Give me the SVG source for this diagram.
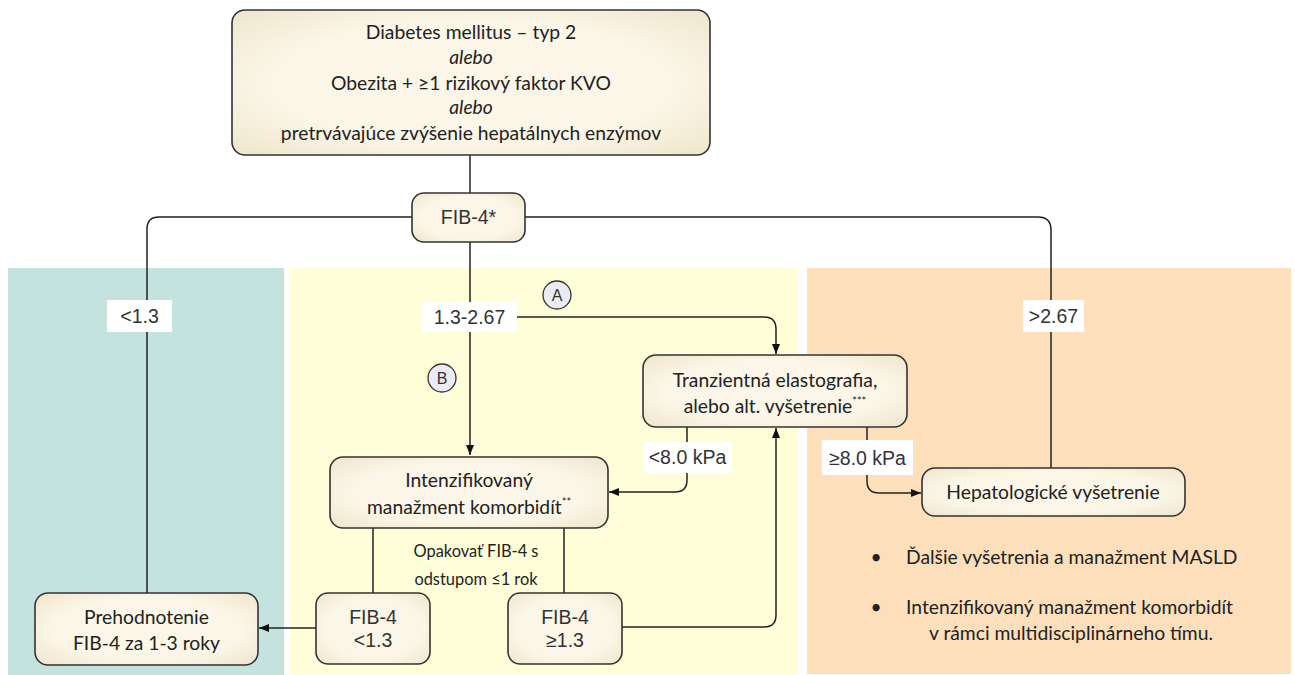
<svg xmlns="http://www.w3.org/2000/svg" width="1295" height="675" viewBox="0 0 1295 675">
<style>
.box{stroke:#333;stroke-width:1.6;fill:url(#cream)}
.ln{fill:none;stroke:#222;stroke-width:1.5}
.arr{marker-end:url(#ah)}
.t{font-family:Lato,"Liberation Sans",sans-serif;font-size:19.3px;fill:#222;text-anchor:middle}
.a{font-family:"Liberation Sans",Arial,sans-serif;font-size:19.5px;fill:#333;text-anchor:middle}
.lbl{fill:#fff}
.circ{fill:#ebebf3;stroke:#333;stroke-width:1.3}
</style>
<defs>
<radialGradient id="cream" cx="50%" cy="50%" r="70%">
<stop offset="0.6" stop-color="#fbf6e7"/>
<stop offset="1" stop-color="#efe5cc"/>
</radialGradient>
<marker id="ah" viewBox="0 0 10 10" refX="10" refY="5" markerWidth="10" markerHeight="10" markerUnits="userSpaceOnUse" orient="auto">
<path d="M0,1 L10,5 L0,9 z" fill="#111"/>
</marker>
</defs>
<rect width="1295" height="675" fill="#fff"/>
<g id="panels">
<rect x="8" y="268" width="276" height="407" fill="#c5e3de"/>
<rect x="290" y="268" width="508" height="407" fill="#fefed9"/>
<rect x="807" y="268" width="484" height="406" fill="#fde0bb"/>
</g>
<g id="connectors">
<line class="ln" x1="470" y1="155" x2="470" y2="193"/>
<path class="ln" d="M412,217 H159 Q147,217 147,229 V593"/>
<path class="ln" d="M525,217 H1038 Q1051,217 1051,230 V468"/>
<path class="ln arr" d="M470,242 V455"/>
<path class="ln arr" d="M517,317 H764 Q776,317 776,329 V354"/>
<path class="ln arr" d="M687,427 V480 Q687,492 675,492 H609"/>
<path class="ln arr" d="M622,627 H764 Q776,627 776,615 V428"/>
<path class="ln arr" d="M867,427 V481 Q867,493 879,493 H921"/>
<line class="ln" x1="373" y1="528" x2="373" y2="593"/>
<line class="ln" x1="564" y1="528" x2="564" y2="593"/>
<path class="ln arr" d="M316,628 H259"/>
</g>
<g id="labels">
<g id="lbl-lt13"><rect class="lbl" x="107" y="300" width="65" height="32"/><text class="a" x="139.5" y="323">&lt;1.3</text></g>
<g id="lbl-mid"><rect class="lbl" x="422" y="302" width="95" height="30"/><text class="a" x="469.5" y="324">1.3-2.67</text></g>
<g id="lbl-gt267"><rect class="lbl" x="1023" y="300" width="61" height="32"/><text class="a" x="1053.5" y="323">&gt;2.67</text></g>
<g id="lbl-lt8"><rect class="lbl" x="643" y="442" width="89" height="31"/><text class="a" x="687.5" y="464">&lt;8.0 kPa</text></g>
<g id="lbl-ge8"><rect class="lbl" x="822" y="440" width="91" height="35"/><text class="a" x="867.5" y="465">≥8.0 kPa</text></g>
<g id="circA"><circle class="circ" cx="557" cy="295" r="14"/><text class="a" x="557" y="301" style="font-size:16px">A</text></g>
<g id="circB"><circle class="circ" cx="442" cy="378" r="14"/><text class="a" x="442" y="384" style="font-size:16px">B</text></g>
<text class="t" x="476" y="557" style="font-size:16.4px">Opakovať FIB-4 s</text>
<text class="t" x="476" y="585" style="font-size:16.4px">odstupom ≤1 rok</text>
</g>
<g id="n-top">
<rect class="box" x="232" y="10" width="478" height="145" rx="13"/>
<text class="t" x="471" y="39">Diabetes mellitus – typ 2</text>
<text class="t" x="471" y="64" font-style="italic">alebo</text>
<text class="t" x="471" y="90">Obezita + ≥1 rizikový faktor KVO</text>
<text class="t" x="471" y="114" font-style="italic">alebo</text>
<text class="t" x="471" y="140">pretrvávajúce zvýšenie hepatálnych enzýmov</text>
</g>
<g id="n-fib4">
<rect class="box" x="412" y="193" width="113" height="49" rx="12"/>
<text class="a" x="468.5" y="224">FIB-4*</text>
</g>
<g id="n-te">
<rect class="box" x="643" y="355" width="264" height="72" rx="13"/>
<text class="t" x="775" y="387">Tranzientná elastografia,</text>
<text class="t" x="775" y="413">alebo alt. vyšetrenie<tspan font-size="11" dy="-8">***</tspan></text>
</g>
<g id="n-intenz">
<rect class="box" x="330" y="457" width="278" height="71" rx="13"/>
<text class="t" x="469" y="487">Intenzifikovaný</text>
<text class="t" x="469" y="514">manažment komorbidít<tspan font-size="11" dy="-8">**</tspan></text>
</g>
<g id="n-hep">
<rect class="box" x="922" y="468" width="263" height="48" rx="13"/>
<text class="t" x="1053" y="499">Hepatologické vyšetrenie</text>
</g>
<g id="n-fiblt">
<rect class="box" x="316" y="593" width="114" height="71" rx="12"/>
<text class="a" x="373" y="624">FIB-4</text>
<text class="a" x="373" y="647">&lt;1.3</text>
</g>
<g id="n-fibge">
<rect class="box" x="508" y="593" width="114" height="71" rx="12"/>
<text class="a" x="565" y="624">FIB-4</text>
<text class="a" x="565" y="647">≥1.3</text>
</g>
<g id="n-preh">
<rect class="box" x="35" y="593" width="223" height="72" rx="13"/>
<text class="t" x="146.5" y="624">Prehodnotenie</text>
<text class="t" x="146.5" y="650">FIB-4 za 1-3 roky</text>
</g>
<g id="bullets">
<text class="t" x="876" y="564" style="text-anchor:middle">•</text>
<text class="t" x="906" y="564" style="text-anchor:start">Ďalšie vyšetrenia a manažment MASLD</text>
<text class="t" x="876" y="614" style="text-anchor:middle">•</text>
<text class="t" x="906" y="614" style="text-anchor:start">Intenzifikovaný manažment komorbidít</text>
<text class="t" x="1071" y="640">v rámci multidisciplinárneho tímu.</text>
</g>
</svg>
